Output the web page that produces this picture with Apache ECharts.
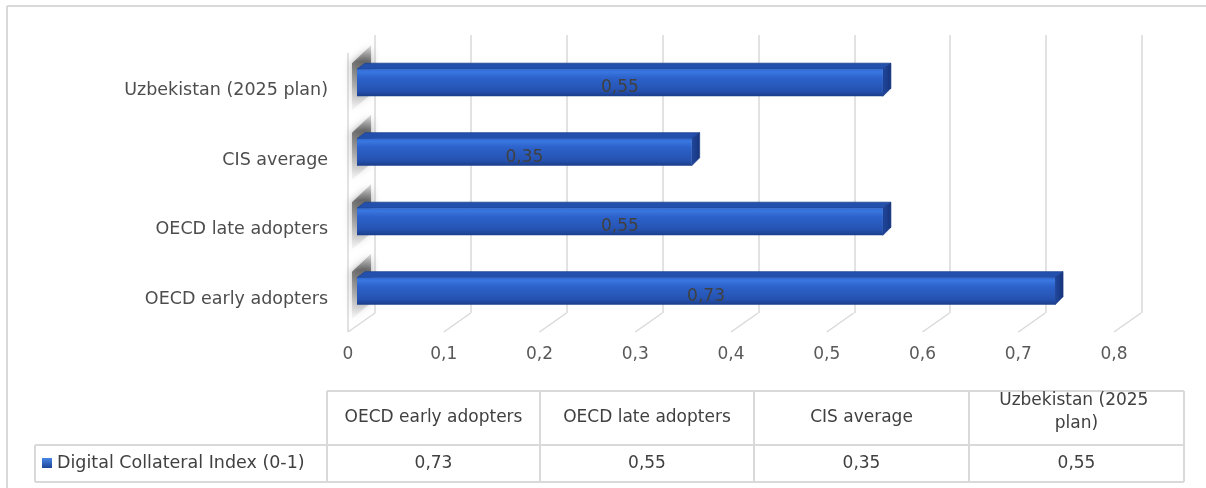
<!DOCTYPE html>
<html><head><meta charset="utf-8">
<script src="https://cdn.jsdelivr.net/npm/echarts@6/dist/echarts.min.js"></script>
<style>html,body{margin:0;padding:0;background:#fff}#c{width:1206px;height:488px}</style>
</head><body><div id="c"></div>
<script>
// ---- data ----
const categories = ['OECD early adopters', 'OECD late adopters', 'CIS average', 'Uzbekistan (2025 plan)'];
const values = [0.73, 0.55, 0.35, 0.55];
const seriesName = 'Digital Collateral Index (0-1)';
const xTicks = [0, 0.1, 0.2, 0.3, 0.4, 0.5, 0.6, 0.7, 0.8];

// ---- helpers ----
const FONT = '"DejaVu Sans", sans-serif';
const fmt = v => String(Number(Number(v).toFixed(2))).replace('.', ',');
const G = echarts.graphic;

const frontGrad = new G.LinearGradient(0, 0, 0, 1, [
  {offset: 0, color: '#2f68d4'}, {offset: 0.1, color: '#3a77e0'},
  {offset: 0.3, color: '#2d63cc'}, {offset: 0.8, color: '#2552b0'},
  {offset: 1, color: '#1a3d89'}]);
const sideGrad = new G.LinearGradient(0, 0, 1, 0, [
  {offset: 0, color: '#21489f'}, {offset: 1, color: '#16337a'}]);

function renderBar(params, api) {
  const v = api.value(0), i = api.value(1);
  const p0 = api.coord([0, i]), p1 = api.coord([v, i]);
  const h = api.size([0, 1])[1] * 0.39;
  const x0 = p0[0], x1 = p1[0], yt = p0[1] - h / 2, yb = p0[1] + h / 2;
  const dx = 8, dy = 6;
  return {type: 'group', children: [
    {type: 'polygon', shape: {points: [[x0, yt], [x0 + dx, yt - dy], [x1 + dx, yt - dy], [x1, yt]]},
      style: {fill: '#2450ad', stroke: '#1c418f', lineWidth: 0.8}},
    {type: 'polygon', shape: {points: [[x1, yt], [x1 + dx, yt - dy], [x1 + dx, yb - dy - 2], [x1, yb]]},
      style: {fill: sideGrad, stroke: '#163780', lineWidth: 0.6}},
    {type: 'rect', shape: {x: x0, y: yt, width: x1 - x0, height: h}, style: {fill: frontGrad}},
    {type: 'text', style: {text: fmt(v), x: (x0 + x1) / 2, y: p0[1] + 5, align: 'center',
      verticalAlign: 'middle', fontSize: 17, fontFamily: FONT, fill: '#404040'}}
  ]};
}

function renderShadow(params, api) {
  const i = api.value(1);
  const p0 = api.coord([0, i]);
  const h = api.size([0, 1])[1] * 0.39;
  const yt = p0[1] - h / 2, yb = p0[1] + h / 2;
  const xa = 352, xb = 371;
  return {type: 'polygon',
    shape: {points: [[xa, yt - 6], [xb, yt - 24], [xb, yb - 2], [xa, yb + 14]]},
    style: {fill: new G.LinearGradient(0, 0, 0, 1, [
      {offset: 0, color: 'rgba(110,110,110,0.2)'}, {offset: 0.25, color: 'rgba(80,80,80,0.75)'},
      {offset: 0.6, color: 'rgba(110,110,110,0.45)'}, {offset: 1, color: 'rgba(160,160,160,0.08)'}]),
      shadowBlur: 8, shadowColor: 'rgba(100,100,100,0.8)'}};
}

function renderFloor(params, api) {
  const v = api.value(0);
  const p = api.coord([v, 0]);
  const ch = [{type: 'line', shape: {x1: p[0], y1: p[1], x2: p[0] + 27, y2: p[1] - 19},
    style: {stroke: '#d9d9d9', lineWidth: 1.5}}];
  if (v === 0) ch.push({type: 'line', shape: {x1: p[0], y1: p[1], x2: p[0], y2: p[1] - 279},
    style: {stroke: '#d9d9d9', lineWidth: 1.5}});
  return {type: 'group', children: ch};
}

// ---- table (built from the arrays) ----
const cols = [327, 540, 754, 969, 1184];
const tLeft = 35, rTop = 391, rMid = 445, rBot = 482;
const lineStyle = {stroke: '#d9d9d9', lineWidth: 2};
const graphics = [
  {type: 'line', shape: {x1: 7, y1: 6, x2: 1212, y2: 6}, style: lineStyle},
  {type: 'line', shape: {x1: 7, y1: 6, x2: 7, y2: 494}, style: lineStyle},
  {type: 'line', shape: {x1: cols[0], y1: rTop, x2: cols[4], y2: rTop}, style: lineStyle},
  {type: 'line', shape: {x1: tLeft, y1: rMid, x2: cols[4], y2: rMid}, style: lineStyle},
  {type: 'line', shape: {x1: tLeft, y1: rBot, x2: cols[4], y2: rBot}, style: lineStyle},
  {type: 'line', shape: {x1: tLeft, y1: rMid, x2: tLeft, y2: rBot}, style: lineStyle}
];
cols.forEach(x => graphics.push({type: 'line', shape: {x1: x, y1: rTop, x2: x, y2: rBot}, style: lineStyle}));
categories.forEach((c, k) => {
  const cx = (cols[k] + cols[k + 1]) / 2;
  graphics.push({type: 'text', x: cx, y: (rTop + rMid) / 2 - (c.length > 20 ? 6 : 0), style: {text: c, align: 'center',
    verticalAlign: 'middle', width: 190, overflow: 'break', lineHeight: 23, fontSize: 17, fontFamily: FONT, fill: '#404040'}});
  graphics.push({type: 'text', x: cx, y: (rMid + rBot) / 2, style: {text: fmt(values[k]), align: 'center',
    verticalAlign: 'middle', fontSize: 17, fontFamily: FONT, fill: '#404040'}});
});
graphics.push({type: 'rect', shape: {x: 42, y: 458, width: 10, height: 10},
  style: {fill: new G.LinearGradient(0, 0, 0, 1, [{offset: 0, color: '#4a86e8'}, {offset: 1, color: '#1d4496'}])}});
graphics.push({type: 'text', x: 57, y: (rMid + rBot) / 2, style: {text: seriesName, align: 'left',
  verticalAlign: 'middle', fontSize: 17.5, fontFamily: FONT, fill: '#404040'}});

// ---- chart ----
const chart = echarts.init(document.getElementById('c'), null, {renderer: 'canvas'});
chart.setOption({
  animation: false,
  backgroundColor: '#ffffff',
  grid: [
    {left: 357, top: 48, width: 765, height: 278},   // bars
    {left: 348, top: 48, width: 766, height: 284},   // front floor edge + labels
    {left: 375, top: 35, width: 767, height: 278},   // back wall
    {left: 357, top: 56, width: 765, height: 278}    // category labels (front-aligned)
  ],
  xAxis: [
    {gridIndex: 0, type: 'value', min: 0, max: 0.8, interval: 0.1, show: false},
    {gridIndex: 1, type: 'value', min: 0, max: 0.8, interval: 0.1,
      axisLine: {show: false}, axisTick: {show: false}, splitLine: {show: false},
      axisLabel: {margin: 14, fontSize: 17, fontFamily: FONT, color: '#595959', formatter: v => fmt(v)}},
    {gridIndex: 2, type: 'value', min: 0, max: 0.8, interval: 0.1,
      axisLine: {show: false}, axisTick: {show: false}, axisLabel: {show: false},
      splitLine: {show: true, lineStyle: {color: '#d9d9d9', width: 1.5}}},
    {gridIndex: 3, type: 'value', min: 0, max: 0.8, show: false}
  ],
  yAxis: [
    {gridIndex: 0, type: 'category', data: categories, show: false},
    {gridIndex: 1, type: 'value', min: 0, max: 1, show: false},
    {gridIndex: 2, type: 'value', min: 0, max: 1, show: false},
    {gridIndex: 3, type: 'category', data: categories,
      axisLine: {show: false}, axisTick: {show: false}, splitLine: {show: false},
      axisLabel: {margin: 29, fontSize: 17.5, fontFamily: FONT, color: '#4d4d4d'}}
  ],
  series: [
    {type: 'custom', xAxisIndex: 1, yAxisIndex: 1, data: xTicks.map(t => [t]), renderItem: renderFloor, silent: true, z: 1},
    {type: 'custom', xAxisIndex: 0, yAxisIndex: 0, data: values.map((v, i) => [v, i]), renderItem: renderShadow, silent: true, z: 2},
    {type: 'custom', name: seriesName, xAxisIndex: 0, yAxisIndex: 0, data: values.map((v, i) => [v, i]),
      renderItem: renderBar, z: 3}
  ],
  graphic: graphics
});
</script></body></html>
